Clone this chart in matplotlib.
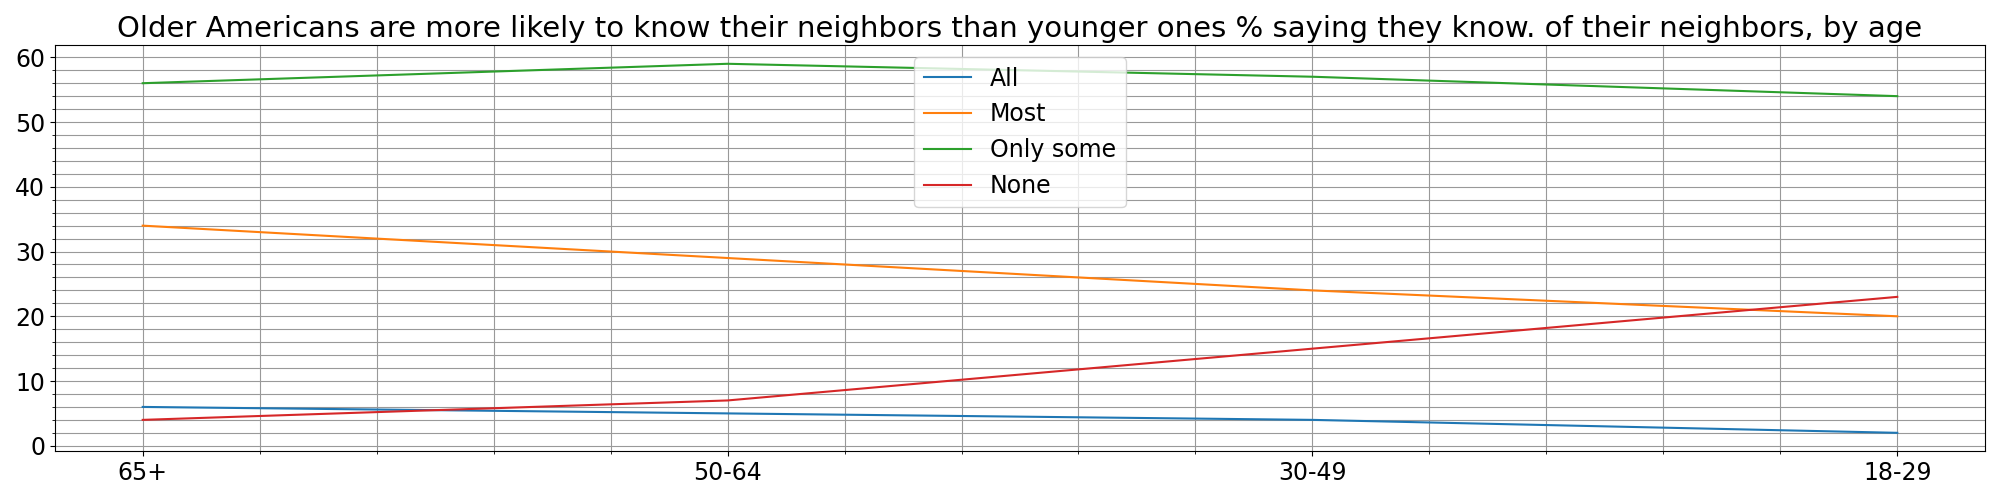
import matplotlib.pyplot as plt
from matplotlib.ticker import AutoMinorLocator

ages = ["65+", "50-64", "30-49", "18-29"]
all_vals = [6, 5, 4, 2]
most_vals = [34, 29, 24, 20]
some_vals = [56, 59, 57, 54]
none_vals = [4, 7, 15, 23]

fig, ax = plt.subplots(figsize=(20, 5), dpi=100)
x = range(len(ages))
ax.plot(x, all_vals, label="All")
ax.plot(x, most_vals, label="Most")
ax.plot(x, some_vals, label="Only some")
ax.plot(x, none_vals, label="None")

ax.set_xticks(list(x))
ax.set_xticklabels(ages)
ax.xaxis.set_minor_locator(AutoMinorLocator(5))
ax.yaxis.set_minor_locator(AutoMinorLocator(5))
ax.grid(True, which="both", color="#999999", linewidth=0.8)
ax.tick_params(labelsize=17)
ax.set_title("Older Americans are more likely to know their neighbors than younger ones % saying they know. of their neighbors, by age", fontsize=21)
ax.legend(loc="upper center", fontsize=17)
plt.tight_layout()
plt.savefig("out.png")
